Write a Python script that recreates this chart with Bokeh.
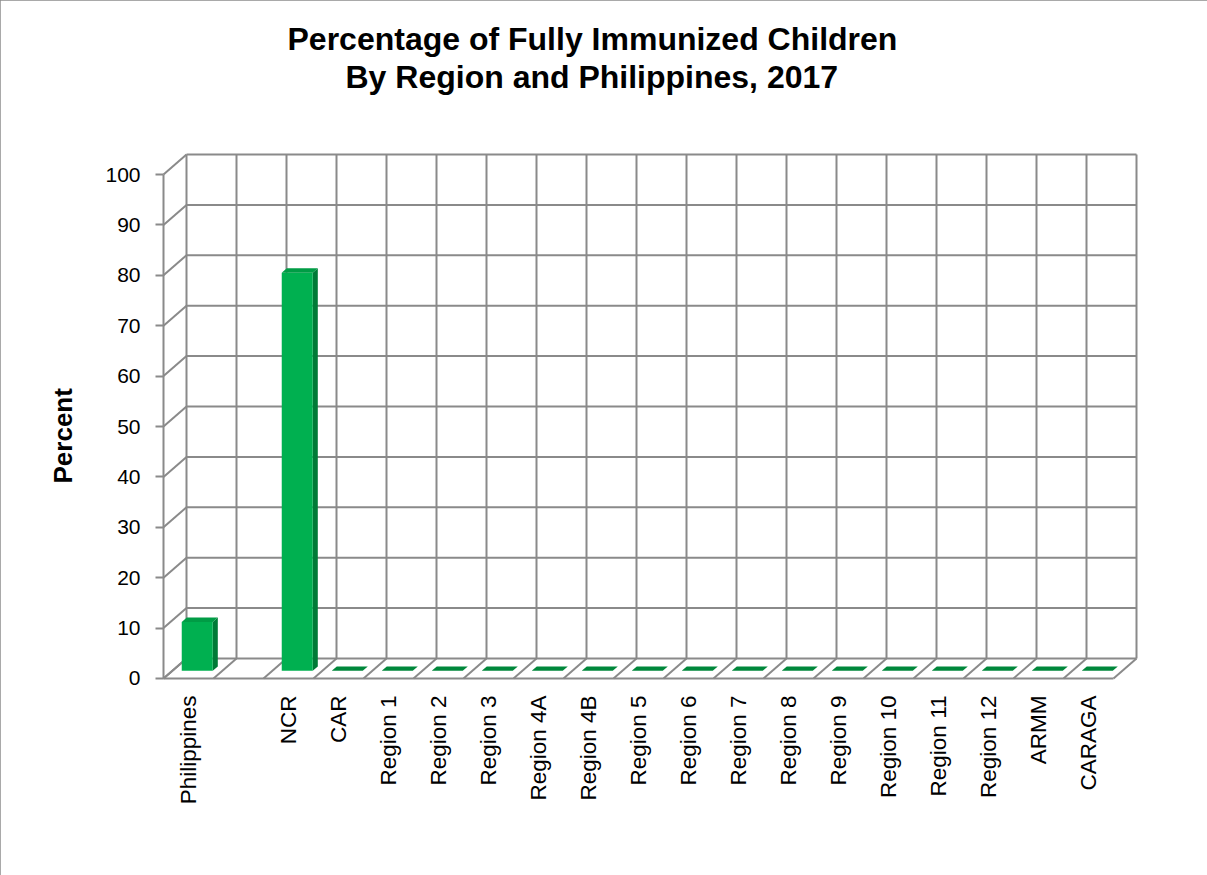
import math
from bokeh.plotting import figure
from bokeh.models import Range1d, FixedTicker, Title
from bokeh.embed import file_html
from bokeh.resources import INLINE

# ---------------- data ----------------
categories = ["Philippines", "", "NCR", "CAR", "Region 1", "Region 2", "Region 3",
              "Region 4A", "Region 4B", "Region 5", "Region 6", "Region 7",
              "Region 8", "Region 9", "Region 10", "Region 11", "Region 12",
              "ARMM", "CARAGA"]
values = [9.7, None, 79.0, 0, 0, 0, 0, 0, 0, 0, 0, 0, 0, 0, 0, 0, 0, 0, 0]
y_ticks = [0, 10, 20, 30, 40, 50, 60, 70, 80, 90, 100]
title_line1 = "Percentage of Fully Immunized Children"
title_line2 = "By Region and Philippines, 2017"
y_title = "Percent"

# ---------------- geometry / style ----------------
n = len(categories)
Y_MAX = 100
DX = 0.46          # 3-D depth in category units
DY = 3.97          # 3-D depth in value units
PADX = 0.1
PADY = 1.0
BW = 0.62          # bar width
D0 = 0.38          # bar front depth fraction
DD = 0.22          # bar depth fraction
GRID = "#8a8a8a"
FRONT = "#00b050"
SIDE = "#007a37"
TOP = "#009c45"
TOP_ZERO = "#00873b"
FONT = "Liberation Sans"

p = figure(width=1207, height=875,
           x_range=Range1d(-PADX, n + DX + PADX),
           y_range=Range1d(-PADY, Y_MAX + DY + PADY),
           output_backend="svg", toolbar_location=None,
           min_border_left=158, min_border_right=66,
           min_border_top=149, min_border_bottom=192)
p.styles = {"outline": "2px solid #8c8c8c", "outline-offset": "-2px"}
p.outline_line_color = None
p.xgrid.visible = False
p.ygrid.visible = False
p.background_fill_color = "white"
p.border_fill_color = "white"

# ---- walls & grid ----
gx0, gy0, gx1, gy1 = [], [], [], []
for i in range(n + 1):                      # back wall verticals
    gx0.append(i + DX); gy0.append(DY); gx1.append(i + DX); gy1.append(Y_MAX + DY)
for t in y_ticks:                           # back wall horizontals
    gx0.append(DX); gy0.append(t + DY); gx1.append(n + DX); gy1.append(t + DY)
for t in y_ticks:                           # side wall diagonals
    gx0.append(0); gy0.append(t); gx1.append(DX); gy1.append(t + DY)
for i in range(n + 1):                      # floor diagonals
    gx0.append(i); gy0.append(0); gx1.append(i + DX); gy1.append(DY)
gx0.append(0); gy0.append(0); gx1.append(n); gy1.append(0)          # floor front edge
gx0.append(0); gy0.append(0); gx1.append(0); gy1.append(Y_MAX)      # value axis line
p.segment(x0=gx0, y0=gy0, x1=gx1, y1=gy1, line_color=GRID, line_width=2)

# ---- bars ----
fl, fr, fb, ft = [], [], [], []
sxs, sys_ = [], []
txs, tys, tcol = [], [], []
ox, oy = DD * DX, DD * DY
for i, v in enumerate(values):
    if v is None:
        continue
    l = i + 0.5 - BW / 2 + D0 * DX
    r = l + BW
    b = D0 * DY
    t = v + D0 * DY
    if v > 0:
        fl.append(l); fr.append(r); fb.append(b); ft.append(t)
        sxs.append([r, r, r + ox, r + ox]); sys_.append([b, t, t + oy, b + oy])
    txs.append([l, r, r + ox, l + ox]); tys.append([t, t, t + oy, t + oy])
    tcol.append(TOP if v > 0 else TOP_ZERO)

p.patches(xs=sxs, ys=sys_, fill_color=SIDE, line_color=None)
p.quad(left=fl, right=fr, bottom=fb, top=ft, fill_color=FRONT, line_color=None)
p.patches(xs=txs, ys=tys, fill_color=tcol, line_color=None)

# ---- axes ----
yax = p.yaxis[0]
yax.ticker = FixedTicker(ticks=y_ticks)
yax.axis_line_color = None
yax.major_tick_line_color = GRID
yax.major_tick_line_width = 2
yax.major_tick_in = 5
yax.major_tick_out = 3
yax.minor_tick_line_color = None
yax.major_label_standoff = 15
yax.major_label_text_font = FONT
yax.major_label_text_font_size = "21px"
yax.major_label_text_color = "black"

xax = p.xaxis[0]
tick_pos = [i + 0.5 for i in range(n)]
xax.ticker = FixedTicker(ticks=tick_pos)
xax.major_label_overrides = {tp: c for tp, c in zip(tick_pos, categories)}
xax.axis_line_color = None
xax.major_tick_line_color = None
xax.minor_tick_line_color = None
xax.major_tick_in = 0
xax.major_tick_out = 0
xax.major_label_orientation = math.pi / 2
xax.major_label_standoff = 12
xax.major_label_text_font = FONT
xax.major_label_text_font_size = "22.5px"
xax.major_label_text_color = "black"

# ---- titles ----
p.add_layout(Title(text=" ", text_font_size="1px", standoff=52), "above")
p.add_layout(Title(text=title_line2, align="left", offset=187, standoff=0,
                   vertical_align="bottom", text_font=FONT, text_font_size="32px",
                   text_font_style="bold", text_color="black"), "above")
p.add_layout(Title(text=title_line1, align="left", offset=129, standoff=0,
                   vertical_align="bottom", text_font=FONT, text_font_size="32px",
                   text_font_style="bold", text_color="black"), "above")
p.add_layout(Title(text=y_title, align="left", offset=200, standoff=50,
                   vertical_align="bottom", text_font=FONT, text_font_size="26px",
                   text_font_style="bold", text_color="black"), "left")

open("out.html", "w").write(file_html(p, INLINE))
